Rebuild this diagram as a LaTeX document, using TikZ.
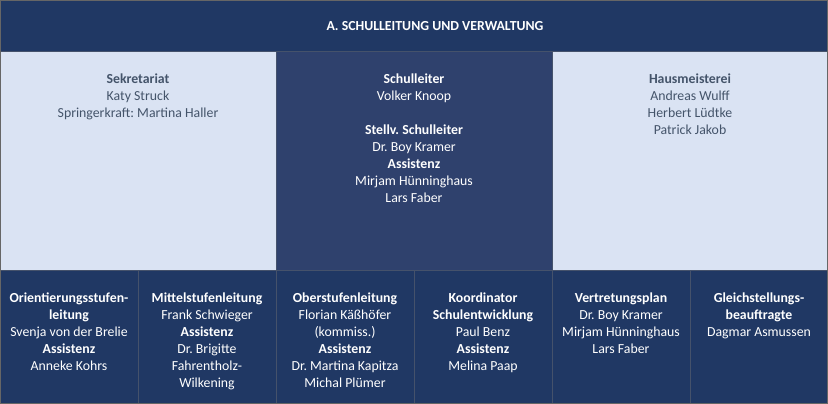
\documentclass[tikz,border=0pt]{standalone}
\usepackage{fontspec}
\setmainfont{Carlito}
\frenchspacing
\definecolor{navy}{HTML}{203864}
\definecolor{midnavy}{HTML}{2F416D}
\definecolor{lightbg}{HTML}{DAE3F3}
\definecolor{lighttxt}{HTML}{44546A}
\definecolor{cellline}{HTML}{45526B}
\begin{document}
\begin{tikzpicture}[x=1pt,y=-1pt,
  cell/.style={draw=cellline,line width=0.7pt,inner sep=0pt,outer sep=0pt},
  darkcell/.style={cell,fill=navy},
  midcell/.style={cell,fill=midnavy},
  lightcell/.style={cell,fill=lightbg},
  txt/.style={anchor=north,inner sep=0pt,align=center,font=\fontsize{13.8}{17}\selectfont},
  darktxt/.style={txt,text=white},
  lighttxt/.style={txt,text=lighttxt}]
\useasboundingbox (0,0) rectangle (828,404);
% top bar
\node[darkcell,minimum width=828pt,minimum height=51pt,anchor=north west] (top) at (0,0) {};
\node[darktxt,font=\fontsize{13.8}{17}\selectfont\bfseries,anchor=center] (title) at (435,26) {A. SCHULLEITUNG UND VERWALTUNG};
% middle row
\node[lightcell,minimum width=276pt,minimum height=219pt,anchor=north west] (sek) at (0,51) {};
\node[midcell,minimum width=276pt,minimum height=219pt,anchor=north west] (sl) at (276,51) {};
\node[lightcell,minimum width=276pt,minimum height=219pt,anchor=north west] (hm) at (552,51) {};
\node[lighttxt] (sekt) at (138,73.5) {\textbf{Sekretariat}\\Katy Struck\\Springerkraft: Martina Haller};
\node[darktxt] (slt) at (414,73.5) {\textbf{Schulleiter}\\Volker Knoop\\[17pt]\textbf{Stellv. Schulleiter}\\Dr. Boy Kramer\\\textbf{Assistenz}\\Mirjam Hünninghaus\\Lars Faber};
\node[lighttxt] (hmt) at (690,73.5) {\textbf{Hausmeisterei}\\Andreas Wulff\\Herbert Lüdtke\\Patrick Jakob};
% bottom row
\foreach \i/\n in {0/b1,1/b2,2/b3,3/b4,4/b5,5/b6}{
  \node[darkcell,minimum width=138pt,minimum height=134pt,anchor=north west] (\n) at (\i*138,270) {};
}
\node[darktxt] (b1t) at (69,292.5) {\textbf{Orientierungsstufen-}\\\textbf{leitung}\\Svenja von der Brelie\\\textbf{Assistenz}\\Anneke Kohrs};
\node[darktxt] (b2t) at (207,292.5) {\textbf{Mittelstufenleitung}\\Frank Schwieger\\\textbf{Assistenz}\\Dr. Brigitte\\Fahrentholz-\\Wilkening};
\node[darktxt] (b3t) at (345,292.5) {\textbf{Oberstufenleitung}\\Florian Käßhöfer\\(kommiss.)\\\textbf{Assistenz}\\Dr. Martina Kapitza\\Michal Plümer};
\node[darktxt] (b4t) at (483,292.5) {\textbf{Koordinator}\\\textbf{Schulentwicklung}\\Paul Benz\\\textbf{Assistenz}\\Melina Paap};
\node[darktxt] (b5t) at (621,292.5) {\textbf{Vertretungsplan}\\Dr. Boy Kramer\\Mirjam Hünninghaus\\Lars Faber};
\node[darktxt] (b6t) at (759,292.5) {\textbf{Gleichstellungs-}\\\textbf{beauftragte}\\Dagmar Asmussen};
% outer frame
\draw[draw=gray!80!black,line width=1pt] (0.5,0.5) rectangle (827.5,403.5);
\end{tikzpicture}
\end{document}
